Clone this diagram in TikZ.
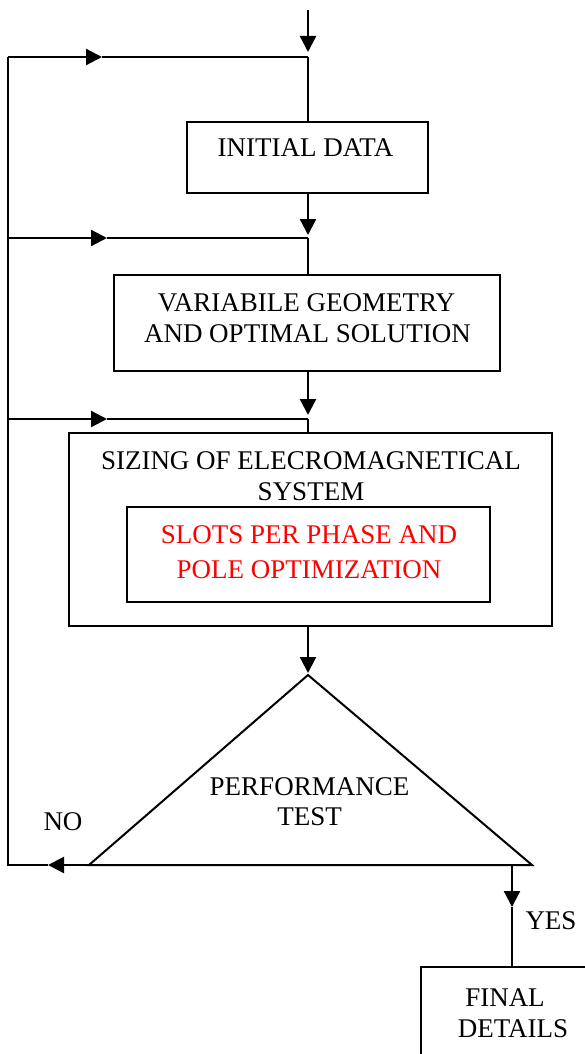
\documentclass[tikz,border=0pt]{standalone}
\usepackage{fontspec}
\setmainfont{Liberation Serif}
\usetikzlibrary{arrows.meta}
\begin{document}
\begin{tikzpicture}[x=1pt,y=-1pt,
  line/.style={line width=2.3pt},
  arr/.style={line width=2.3pt,-{Triangle[length=16pt,width=16pt]}},
  box/.style={draw,line width=2.3pt,inner sep=0pt},
  txt/.style={font=\fontsize{27}{31}\selectfont,inner sep=0pt,anchor=base},
  redtxt/.style={txt,text=red}]
\clip (0,0) rectangle (585,1054);
\fill[white] (0,0) rectangle (585,1054);
% boxes
\node[box,minimum width=241pt,minimum height=71pt] (init) at (307.5,157.5) {};
\node[box,minimum width=386pt,minimum height=96pt] (var) at (307,323) {};
\node[box,minimum width=483pt,minimum height=193pt] (siz) at (310.5,529.5) {};
\node[box,minimum width=363pt,minimum height=95pt] (opt) at (308.5,554.5) {};
\node[box,minimum width=200pt,minimum height=120pt] (fin) at (521,1027) {};
% triangle
\coordinate (tA) at (308,675);
\coordinate (tL) at (89,865);
\coordinate (tR) at (532,865);
\draw[line,line width=2pt,line join=miter] (tA) -- (tL) -- (tR) -- cycle;
% texts
\node[txt] (t1) at (305.5,157) {INITIAL DATA};
\node[txt] (t2) at (306.5,311) {VARIABILE GEOMETRY};
\node[txt] (t3) at (307.5,342) {AND OPTIMAL SOLUTION};
\node[txt] (t4) at (311,469) {SIZING OF ELECROMAGNETICAL};
\node[txt] (t5) at (311,500) {SYSTEM};
\node[redtxt] (t6) at (309,543) {SLOTS PER PHASE AND};
\node[redtxt] (t7) at (309,578) {POLE OPTIMIZATION};
\node[txt] (t8) at (309.5,795) {PERFORMANCE};
\node[txt] (t9) at (309.5,825) {TEST};
\node[txt] (no) at (63,830) {NO};
\node[txt] (yes) at (551,929) {YES};
\node[txt] (t10) at (505,1006) {FINAL};
\node[txt] (t11) at (513,1037) {DETAILS};
% junction coordinates
\coordinate (top) at (308,10);
\coordinate (j1) at (308,57);
\coordinate (j2) at (308,238);
\coordinate (j3) at (308,419);
\coordinate (k0) at (8,865);
\coordinate (k1) at (8,57);
\coordinate (k2) at (8,238);
\coordinate (k3) at (8,419);
\coordinate (a1) at (102,57);
\coordinate (a2) at (107,238);
\coordinate (a3) at (107,419);
\coordinate (a0) at (48,865);
\coordinate (y0) at (512,865);
\coordinate (y1) at (512,907);
% main flow
\draw[arr,shorten >=5pt] (top) -- (j1);
\draw[line] (j1) -- (init.north -| j1);
\draw[arr,shorten >=3pt] (init.south -| j2) -- (j2);
\draw[line] (j2) -- (var.north -| j2);
\draw[arr,shorten >=4pt] (var.south -| j3) -- (j3);
\draw[line] (j3) -- (siz.north -| j3);
\draw[arr,shorten >=2pt] (siz.south -| tA) -- (tA);
\draw[arr] (y0) -- (y1);
\draw[line] (y1) -- (fin.north -| y0);
% feedback loop
\draw[arr] (tL) -- (a0);
\draw[line,line join=miter] (a0) -- (k0) -- (k1);
\draw[arr] (k1) -- (a1);
\draw[line] (a1) -- (j1);
\draw[arr] (k2) -- (a2);
\draw[line] (a2) -- (j2);
\draw[arr] (k3) -- (a3);
\draw[line] (a3) -- (j3);
\end{tikzpicture}
\end{document}
